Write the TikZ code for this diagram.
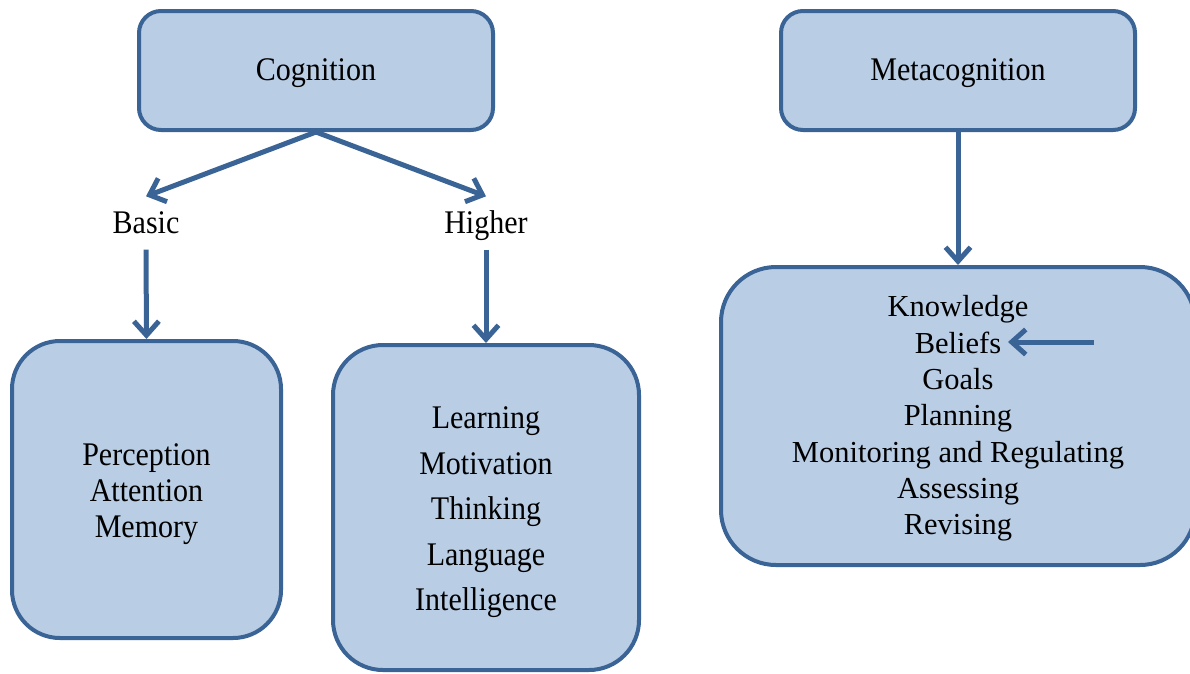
\documentclass[tikz,border=0pt]{standalone}
\usepackage{fontspec}
\setmainfont{Liberation Serif}
\newfontfamily\narrowserif[FakeStretch=0.91]{Liberation Serif}
\usetikzlibrary{arrows.meta}
\definecolor{boxfill}{HTML}{B9CDE5}
\definecolor{boxline}{HTML}{3B6496}
\begin{document}
\begin{tikzpicture}[x=1pt,y=-1pt,
  box/.style={draw=boxline, fill=boxfill, line width=4pt, inner sep=0pt},
  narrowtext/.style={font=\narrowserif\fontsize{33pt}{36pt}\selectfont},
  boxtext/.style={align=center, inner sep=0pt},
  label/.style={narrowtext, inner xsep=2pt, inner ysep=12pt, text height=25pt, text depth=4pt},
  link/.style={draw=boxline, line width=5pt, -{Straight Barb[length=14pt,width=25pt]}}]

% canvas
\fill[white] (0,0) rectangle (1190,673);
\useasboundingbox (0,0) rectangle (1190,673);

% top-level boxes
\node[box, rounded corners=22pt, minimum width=354pt, minimum height=119pt]
  (cog) at (316,70.5) {};
\node[boxtext, narrowtext, yshift=-3pt] (cogtext) at (cog.center) {Cognition};
\node[box, rounded corners=22pt, minimum width=354pt, minimum height=119pt]
  (meta) at (958,70.5) {};
\node[boxtext, narrowtext, yshift=-3pt] (metatext) at (meta.center) {Metacognition};

% branch labels
\node[label] (basic) at (146,223) {Basic};
\node[label] (higher) at (486,223) {Higher};

% detail boxes
\node[box, rounded corners=48pt, minimum width=269pt, minimum height=297pt]
  (basicbox) at (146.5,489.5) {};
\node[boxtext, narrowtext, yshift=-5pt] (basiclist) at (basicbox.center)
  {Perception\\Attention\\Memory};
\node[box, rounded corners=50pt, minimum width=306pt, minimum height=325pt]
  (higherbox) at (486,507.5) {};
\node[boxtext, font=\narrowserif\fontsize{33pt}{45.5pt}\selectfont, yshift=-5pt]
  (higherlist) at (higherbox.center)
  {Learning\\Motivation\\Thinking\\Language\\Intelligence};
\node[box, rounded corners=55pt, minimum width=474pt, minimum height=298pt]
  (metabox) at (958,416) {};
\node[boxtext, font=\fontsize{30.5pt}{36.3pt}\selectfont, yshift=-2.5pt]
  (metalist) at (metabox.center)
  {Knowledge\\Beliefs\\Goals\\Planning\\Monitoring and Regulating\\Assessing\\Revising};

% pointer towards "Beliefs"
\coordinate (beliefsTail) at (1094,342);
\coordinate (beliefsTip) at (1008,342);

% connectors
\draw[link] (cog.south) -- (basic.north);
\draw[link] (cog.south) -- (higher.north);
\draw[link] (basic.south) -- (basicbox.north);
\draw[link] (higher.south) -- (higherbox.north);
\draw[link] (meta.south) -- (metabox.north);
\draw[link] (beliefsTail) -- (beliefsTip);
\end{tikzpicture}
\end{document}
